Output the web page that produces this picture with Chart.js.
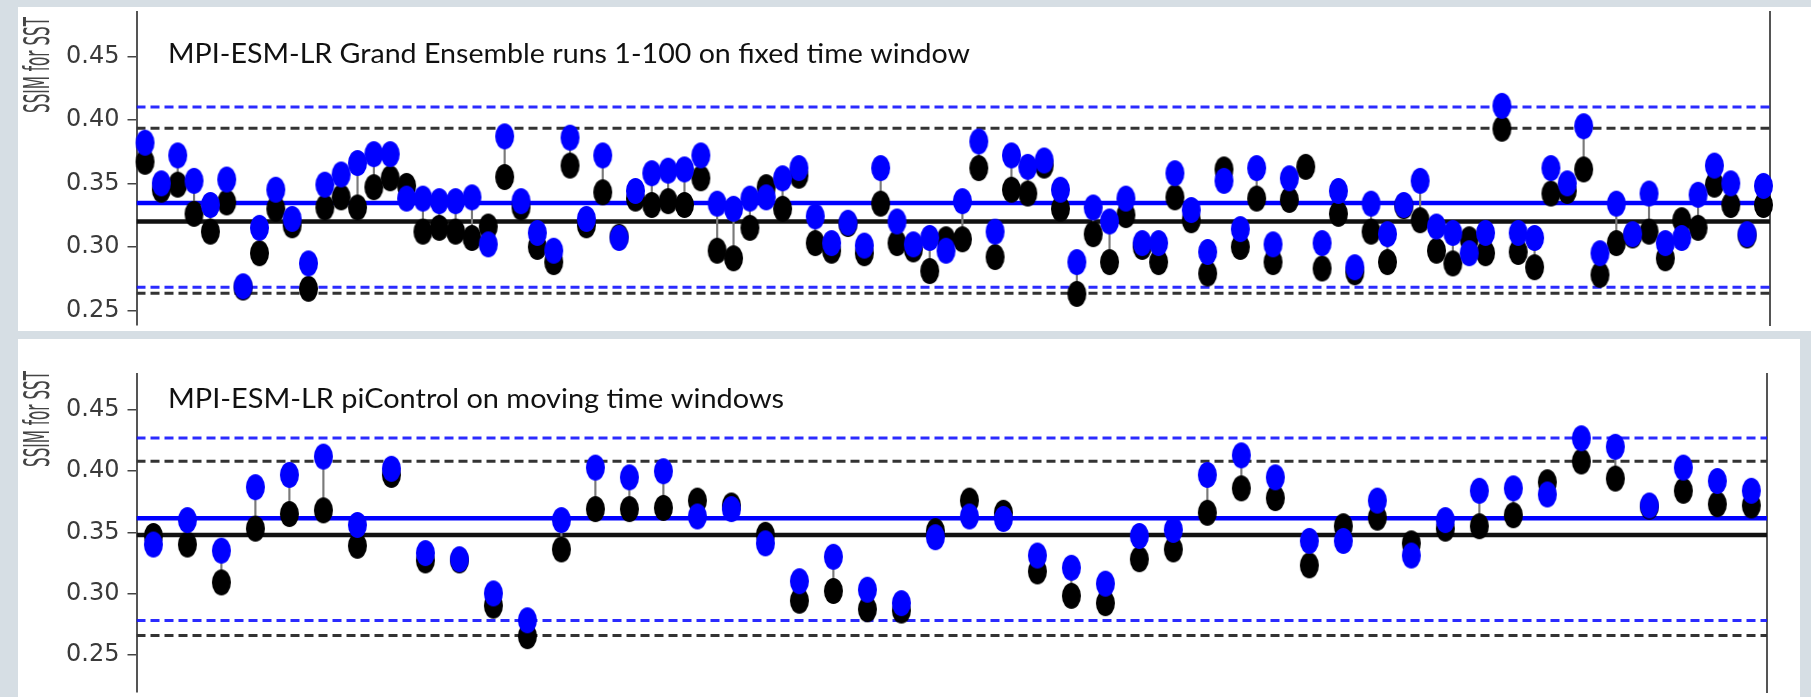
<!DOCTYPE html>
<html>
<head>
<meta charset="utf-8">
<script src="https://cdn.jsdelivr.net/npm/chart.js@4.4.1/dist/chart.umd.min.js"></script>
<style>
    body { margin: 0; width: 1811px; height: 697px; background: #d6dee4; position: relative; overflow: hidden; }
    .panel { position: absolute; background: #fff; }
    #topPanel { left: 18px; top: 7px; width: 1793px; height: 324px; }
    #bottomPanel { left: 18px; top: 339px; width: 1782px; height: 358px; }
    .box { position: absolute; left: 0; width: 1811px; }
    #topBox { top: 7px; height: 323px; }
    #bottomBox { top: 369px; height: 328px; }
</style>
</head>
<body>
<div class="panel" id="topPanel"></div>
<div class="panel" id="bottomPanel"></div>
<div class="box" id="topBox"><canvas id="topChart"></canvas></div>
<div class="box" id="bottomBox"><canvas id="bottomChart"></canvas></div>
<script>
const yLabel = "SSIM for SST";
const yTicks = [0.25, 0.30, 0.35, 0.40, 0.45];

// Grand Ensemble runs 1-100 (blue and black markers)
const topTitle = "MPI-ESM-LR Grand Ensemble runs 1-100 on fixed time window";
const topBlue = [
    0.382, 0.350, 0.372, 0.352, 0.333, 0.353, 0.269, 0.315, 0.345, 0.322,
    0.287, 0.349, 0.357, 0.366, 0.373, 0.373, 0.338, 0.338, 0.336, 0.336,
    0.339, 0.302, 0.387, 0.336, 0.311, 0.297, 0.386, 0.322, 0.372, 0.307,
    0.344, 0.358, 0.360, 0.361, 0.372, 0.334, 0.330, 0.338, 0.339, 0.354,
    0.362, 0.324, 0.303, 0.319, 0.301, 0.362, 0.320, 0.302, 0.307, 0.297,
    0.336, 0.383, 0.312, 0.372, 0.363, 0.368, 0.345, 0.288, 0.331, 0.320,
    0.338, 0.303, 0.303, 0.358, 0.329, 0.296, 0.352, 0.314, 0.362, 0.302,
    0.354, null, 0.303, 0.344, 0.284, 0.334, 0.310, 0.333, 0.352, 0.316,
    0.311, 0.295, 0.311, 0.411, 0.311, 0.307, 0.362, 0.350, 0.395, 0.295,
    0.334, 0.310, 0.342, 0.303, 0.307, 0.341, 0.364, 0.350, 0.310, 0.348
];
const topBlack = [
    0.367, 0.345, 0.349, 0.326, 0.312, 0.335, 0.268, 0.295, 0.330, 0.317,
    0.267, 0.331, 0.339, 0.331, 0.347, 0.354, 0.348, 0.312, 0.315, 0.312,
    0.307, 0.316, 0.355, 0.331, 0.300, 0.288, 0.364, 0.317, 0.343, 0.308,
    0.338, 0.333, 0.336, 0.333, 0.354, 0.297, 0.291, 0.315, 0.347, 0.330,
    0.356, 0.303, 0.297, 0.318, 0.295, 0.334, 0.303, 0.298, 0.281, 0.306,
    0.306, 0.362, 0.292, 0.345, 0.342, 0.364, 0.330, 0.263, 0.310, 0.288,
    0.325, 0.300, 0.288, 0.339, 0.321, 0.279, 0.361, 0.300, 0.338, 0.288,
    0.337, 0.363, 0.283, 0.326, 0.280, 0.312, 0.288, 0.332, 0.321, 0.297,
    0.287, 0.306, 0.295, 0.393, 0.296, 0.284, 0.342, 0.344, 0.361, 0.278,
    0.303, 0.309, 0.312, 0.291, 0.321, 0.315, 0.349, 0.333, 0.309, 0.333
];
const topBlueMean = 0.3346;
const topBlackMean = 0.3199;
const topBlueBand = [0.2683, 0.4101];
const topBlackBand = [0.2634, 0.3934];

// piControl on moving time windows
const bottomTitle = "MPI-ESM-LR piControl on moving time windows";
const bottomBlue = [
    0.340, 0.360, 0.335, 0.387, 0.397, 0.412, 0.356, 0.402, 0.333, 0.328,
    0.300, 0.278, 0.360, 0.403, 0.395, 0.400, 0.363, 0.369, 0.341, 0.310,
    0.330, 0.303, 0.292, 0.346, 0.363, 0.361, 0.331, 0.321, 0.308, 0.347,
    0.352, 0.397, 0.413, 0.395, 0.343, 0.343, 0.376, 0.331, 0.360, 0.384,
    0.386, 0.381, 0.427, 0.420, 0.372, 0.403, 0.392, 0.384
];
const bottomBlack = [
    0.347, 0.340, 0.309, 0.353, 0.365, 0.368, 0.339, 0.397, 0.327, 0.327,
    0.290, 0.265, 0.336, 0.369, 0.369, 0.370, 0.376, 0.372, 0.348, 0.294,
    0.302, 0.287, 0.286, 0.351, 0.376, 0.366, 0.318, 0.298, 0.292, 0.328,
    0.336, 0.366, 0.386, 0.378, 0.323, 0.355, 0.362, 0.341, 0.353, 0.355,
    0.364, 0.391, 0.408, 0.394, 0.371, 0.384, 0.373, 0.372
];
const bottomBlueMean = 0.3616;
const bottomBlackMean = 0.3479;
const bottomBlueBand = [0.2778, 0.4272];
const bottomBlackBand = [0.2656, 0.4082];

function ellipse(color, w, h) {
    const c = document.createElement("canvas");
    c.width = w + 2;
    c.height = h + 2;
    const g = c.getContext("2d");
    g.fillStyle = color;
    g.beginPath();
    g.ellipse(c.width / 2, c.height / 2, w / 2, h / 2, 0, 0, Math.PI * 2);
    g.fill();
    return c;
}

function hline(value, color, width, dash, xMin, xMax, order) {
    return {
        type: "line",
        data: [{ x: xMin, y: value }, { x: xMax, y: value }],
        borderColor: color,
        borderWidth: width,
        borderDash: dash,
        pointRadius: 0,
        order: order
    };
}

const panelText = {
    id: "panelText",
    afterDraw(chart, args, opts) {
        const ctx = chart.ctx;

        ctx.save();
        ctx.font = "27px Lato";
        ctx.fillStyle = "#111";
        ctx.textBaseline = "alphabetic";
        const w = ctx.measureText(opts.title).width;
        ctx.translate(opts.titleX, opts.titleY);
        ctx.scale(opts.titleWidth / w, 1);
        ctx.fillText(opts.title, 0, 0);
        ctx.restore();

        // rotated axis label, stretched like the source image
        ctx.save();
        ctx.font = "20px 'DejaVu Sans'";
        ctx.fillStyle = "#444";
        ctx.textAlign = "center";
        ctx.textBaseline = "alphabetic";
        const lw = ctx.measureText(yLabel).width;
        ctx.translate(49, opts.labelY);
        ctx.rotate(-Math.PI / 2);
        ctx.scale(96 / lw, 1.75);
        ctx.fillText(yLabel, 0, 0);
        ctx.restore();
    }
};

function makePanel(id, p) {
    const blueDots = p.blue.map((v, i) => ({ x: i + 1, y: v }));
    const blackDots = p.black.map((v, i) => ({ x: i + 1, y: v }));
    const stems = [];
    p.blue.forEach((v, i) => {
        if (v !== null) stems.push({ x: i + 1, y: [p.black[i], v] });
    });

    return new Chart(document.getElementById(id), {
        type: "scatter",
        data: {
            datasets: [
                {
                    data: blueDots,
                    pointStyle: ellipse("#0000ff", 19, 26),
                    clip: false,
                    order: 0
                },
                {
                    data: blackDots,
                    pointStyle: ellipse("#000000", 19, 26),
                    clip: false,
                    order: 1
                },
                {
                    type: "bar",
                    data: stems,
                    backgroundColor: "#7a7a7a",
                    barThickness: 1.5,
                    grouped: false,
                    order: 2
                },
                hline(p.blueMean, "#0000ff", 4.5, [], p.xMin, p.xMax, 3),
                hline(p.blackMean, "#111111", 4.5, [], p.xMin, p.xMax, 4),
                hline(p.blueBand[0], "rgba(20,20,255,0.9)", 3, [9, 5], p.xMin, p.xMax, 5),
                hline(p.blueBand[1], "rgba(20,20,255,0.9)", 3, [9, 5], p.xMin, p.xMax, 5),
                hline(p.blackBand[0], "#333333", 3, [9, 5], p.xMin, p.xMax, 6),
                hline(p.blackBand[1], "#333333", 3, [9, 5], p.xMin, p.xMax, 6)
            ]
        },
        options: {
            responsive: true,
            maintainAspectRatio: false,
            animation: false,
            layout: { padding: { left: 0, right: p.padRight, top: 0, bottom: 0 } },
            plugins: {
                legend: { display: false },
                tooltip: { enabled: false },
                panelText: {
                    title: p.title,
                    titleX: p.titleX,
                    titleY: p.titleY,
                    titleWidth: p.titleWidth,
                    labelY: p.labelY
                }
            },
            scales: {
                x: {
                    type: "linear",
                    min: p.xMin,
                    max: p.xMax,
                    offset: false,
                    display: false,
                    ticks: { display: false }
                },
                y: {
                    type: "linear",
                    position: "left",
                    min: p.yMin,
                    max: p.yMax,
                    afterBuildTicks: (s) => { s.ticks = yTicks.map(v => ({ value: v })); },
                    afterFit: (s) => { s.width = 136.5; s.paddingTop = 0; s.paddingBottom = 0; },
                    ticks: {
                        font: { family: "DejaVu Sans", size: 24 },
                        color: "#3a3a3a",
                        padding: 8,
                        callback: (v) => Number(v).toFixed(2)
                    },
                    grid: { drawOnChartArea: false, drawTicks: true, tickLength: 9, color: "#444", lineWidth: 1.5 },
                    border: { display: true, color: "#555", width: 2 }
                },
                y2: {
                    type: "linear",
                    position: "right",
                    min: p.yMin,
                    max: p.yMax,
                    afterFit: (s) => { s.width = 0; s.paddingTop = 0; s.paddingBottom = 0; },
                    ticks: { display: false },
                    grid: { display: false, drawTicks: false },
                    border: { display: true, color: "#555", width: 2 }
                }
            }
        },
        plugins: [panelText]
    });
}

makePanel("topChart", {
    blue: topBlue,
    black: topBlack,
    blueMean: topBlueMean,
    blackMean: topBlackMean,
    blueBand: topBlueBand,
    blackBand: topBlackBand,
    xMin: 0.48,
    xMax: 100.4,
    yMin: 0.2385,
    yMax: 0.4849,
    padRight: 41,
    title: topTitle,
    titleX: 168,
    titleY: 56,
    titleWidth: 802,
    labelY: 58
});

makePanel("bottomChart", {
    blue: bottomBlue,
    black: bottomBlack,
    blueMean: bottomBlueMean,
    blackMean: bottomBlackMean,
    blueBand: bottomBlueBand,
    blackBand: bottomBlackBand,
    xMin: 0.503,
    xMax: 48.46,
    yMin: 0.2193,
    yMax: 0.4796,
    padRight: 44,
    title: bottomTitle,
    titleX: 168,
    titleY: 39,
    titleWidth: 616,
    labelY: 50
});
</script>
</body>
</html>
